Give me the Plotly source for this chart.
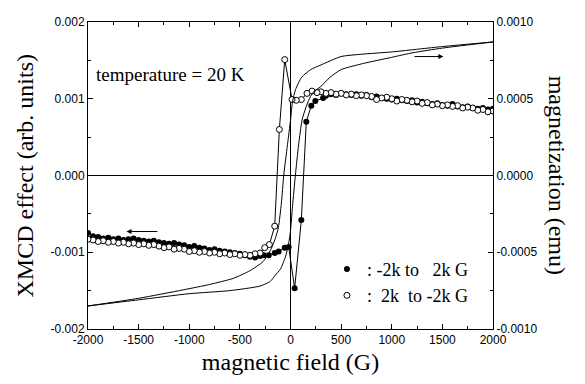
import plotly.graph_objects as go

# XMCD data, field swept 2k -> -2k G (open circles)
open_field = [2000, 1950, 1900, 1850, 1800, 1750, 1700, 1650, 1600, 1550, 1500, 1450, 1400, 1350,
              1300, 1250, 1200, 1150, 1100, 1050, 1000, 950, 900, 850, 800, 750, 700, 650, 600,
              550, 500, 450, 400, 350, 300, 262, 212, 163, 107, 57, 15, -57, -110, -156, -209,
              -255, -300, -350, -400, -450, -500, -550, -600, -650, -700, -750, -800, -850, -900,
              -950, -1000, -1050, -1100, -1150, -1200, -1250, -1300, -1350, -1400, -1450, -1500,
              -1550, -1600, -1650, -1700, -1750, -1800, -1850, -1900, -1950, -2000]
open_xmcd = [0.00084, 0.00083, 0.00086, 0.00085, 0.00088, 0.00089, 0.00088, 0.00091, 0.00090,
             0.00092, 0.00091, 0.00093, 0.00092, 0.00095, 0.00094, 0.00097, 0.00096, 0.00098,
             0.00099, 0.00097, 0.00100, 0.00102, 0.00101, 0.00099, 0.00103, 0.00104, 0.00105,
             0.00104, 0.00106, 0.00105, 0.00107, 0.00106, 0.00108, 0.00107, 0.00109, 0.00108,
             0.00110, 0.00107, 0.00099, 0.00098, 0.00099, 0.00151, 0.00060, -0.00066, -0.00090,
             -0.00094, -0.00101, -0.00102, -0.00104, -0.00103, -0.00104, -0.00102, -0.00103,
             -0.00101, -0.00102, -0.00100, -0.00101, -0.00099, -0.00100, -0.00098, -0.00099,
             -0.00096, -0.00095, -0.00096, -0.00093, -0.00094, -0.00092, -0.00090, -0.00091,
             -0.00089, -0.00090, -0.00088, -0.00089, -0.00087, -0.00088, -0.00086, -0.00087,
             -0.00085, -0.00086, -0.00084, -0.00083]

# XMCD data, field swept -2k -> 2k G (filled circles)
fill_field = [-2000, -1950, -1900, -1850, -1800, -1750, -1700, -1650, -1600, -1550, -1500, -1450,
              -1400, -1350, -1300, -1250, -1200, -1150, -1100, -1050, -1000, -950, -900, -850,
              -800, -750, -700, -650, -600, -550, -500, -450, -400, -350, -300, -265, -215, -156,
              -117, -57, -18, 41, 107, 156, 205, 245, 322, 350, 400, 450, 500, 550, 600, 650, 700,
              750, 800, 850, 900, 950, 1000, 1050, 1100, 1150, 1200, 1250, 1300, 1350, 1400, 1450,
              1500, 1550, 1600, 1650, 1700, 1750, 1800, 1850, 1900, 1950, 2000]
fill_xmcd = [-0.00075, -0.00079, -0.00080, -0.00082, -0.00081, -0.00083, -0.00082, -0.00084,
             -0.00083, -0.00082, -0.00084, -0.00085, -0.00086, -0.00085, -0.00087, -0.00088,
             -0.00089, -0.00088, -0.00090, -0.00091, -0.00093, -0.00092, -0.00094, -0.00095,
             -0.00097, -0.00096, -0.00098, -0.00099, -0.00100, -0.00101, -0.00102, -0.00104,
             -0.00106, -0.00107, -0.00105, -0.00104, -0.00104, -0.00101, -0.00099, -0.00094,
             -0.00093, -0.00147, -0.00058, 0.00070, 0.00091, 0.00097, 0.00101, 0.00104, 0.00106,
             0.00105, 0.00107, 0.00106, 0.00105, 0.00106, 0.00104, 0.00105, 0.00102, 0.00103,
             0.00101, 0.00100, 0.00099, 0.00100, 0.00098, 0.00097, 0.00098, 0.00095, 0.00096,
             0.00094, 0.00093, 0.00094, 0.00092, 0.00091, 0.00093, 0.00090, 0.00089, 0.00090,
             0.00088, 0.00087, 0.00088, 0.00086, 0.00087]

# Magnetization (emu), descending branch 2k -> -2k
mag_down_field = [2000, 1500, 1000, 700, 500, 300, 200, 110, 50, 20, 0, -30, -67, -90, -120, -150,
                  -200, -270, -400, -565, -800, -1060, -1500, -2000]
mag_down = [0.00087, 0.00084, 0.000805, 0.00079, 0.000775, 0.00072, 0.00069, 0.00064, 0.00056,
            0.00048, 0.00036, 0.00020, 0.0, -0.00018, -0.00034, -0.00041, -0.00049, -0.00056,
            -0.00062, -0.00067, -0.00071, -0.000745, -0.00080, -0.00085]

# Magnetization (emu), ascending branch -2k -> 2k
mag_up_field = [-2000, -1500, -1000, -600, -300, -200, -150, -100, -50, -20, 0, 20, 48, 80, 114,
                150, 180, 220, 300, 390, 500, 720, 1000, 1210, 1500, 2000]
mag_up = [-0.00085, -0.00081, -0.00077, -0.00075, -0.00072, -0.00069, -0.00065, -0.00061,
          -0.00053, -0.00045, -0.00036, -0.00020, 0.0, 0.00020, 0.00036, 0.00044, 0.00049, 0.00054,
          0.00058, 0.00064, 0.00069, 0.00073, 0.00077, 0.00080, 0.00083, 0.00087]

x_ticks = [-2000, -1500, -1000, -500, 0, 500, 1000, 1500, 2000]
x_labels = ["-2000", "-1500", "-1000", "-500", "0", "500", "1000", "1500", "2000"]
y_ticks = [-0.002, -0.001, 0.0, 0.001, 0.002]
y_labels = ["-0.002", "-0.001", "0.000", "0.001", "0.002"]
y2_ticks = [-0.001, -0.0005, 0.0, 0.0005, 0.001]
y2_labels = ["-0.0010", "-0.0005", "0.0000", "0.0005", "0.0010"]

SERIF = "Liberation Serif, Times New Roman, serif"
SANS = "Liberation Sans, Arial, sans-serif"

fig = go.Figure()
fig.add_trace(go.Scatter(x=mag_down_field, y=mag_down, yaxis="y2", mode="lines",
                         line=dict(color="black", width=1, shape="spline", smoothing=0.6),
                         showlegend=False))
fig.add_trace(go.Scatter(x=mag_up_field, y=mag_up, yaxis="y2", mode="lines",
                         line=dict(color="black", width=1, shape="spline", smoothing=0.6),
                         showlegend=False))
# connecting lines of the XMCD data
fig.add_trace(go.Scatter(x=fill_field, y=fill_xmcd, mode="lines",
                         line=dict(color="black", width=1), showlegend=False))
fig.add_trace(go.Scatter(x=open_field, y=open_xmcd, mode="lines",
                         line=dict(color="black", width=1), showlegend=False))
# markers (with legend entries)
fig.add_trace(go.Scatter(x=fill_field, y=fill_xmcd, mode="markers",
                         name=":\u00a0-2k to \u00a0 2k G",
                         marker=dict(symbol="circle", size=6, color="black")))
fig.add_trace(go.Scatter(x=open_field, y=open_xmcd, mode="markers",
                         name=":\u00a0 2k \u00a0to -2k G",
                         marker=dict(symbol="circle", size=6, color="white",
                                     line=dict(color="black", width=1))))

axis_common = dict(showline=True, linecolor="black", linewidth=1, ticks="inside",
                   tickcolor="black", ticklen=5, showgrid=False,
                   tickfont=dict(family=SANS, size=12, color="black"))

# page body has an 8 px margin: figure is shrunk so the plot lands where the reference has it
fig.update_layout(
    width=577, height=376,
    margin=dict(l=80, r=92, t=7, b=55),
    paper_bgcolor="white", plot_bgcolor="white",
    xaxis=dict(range=[-2000, 2000], tickvals=x_ticks, ticktext=x_labels, mirror="ticks",
               zeroline=True, zerolinecolor="black", zerolinewidth=1,
               minor=dict(ticks="inside", ticklen=3, dtick=250, tickcolor="black"),
               title=dict(text="magnetic field (G)", font=dict(family=SERIF, size=24, color="black"),
                          standoff=6),
               **axis_common),
    yaxis=dict(range=[-0.002, 0.002], tickvals=y_ticks, ticktext=y_labels,
               zeroline=True, zerolinecolor="black", zerolinewidth=1,
               minor=dict(ticks="inside", ticklen=3, dtick=0.0005, tickcolor="black"),
               **axis_common),
    yaxis2=dict(range=[-0.001, 0.001], tickvals=y2_ticks, ticktext=y2_labels, overlaying="y",
                side="right", zeroline=False,
                minor=dict(ticks="inside", ticklen=3, dtick=0.00025, tickcolor="black"),
                **axis_common),
    legend=dict(x=0.59, y=0.255, xanchor="left", yanchor="top", bgcolor="rgba(0,0,0,0)",
                font=dict(family=SERIF, size=18, color="black"), tracegroupgap=0,
                traceorder="normal"),
    annotations=[
        dict(text="temperature = 20 K", x=-1940, y=0.00131, xref="x", yref="y", xanchor="left",
             yanchor="middle", showarrow=False, font=dict(family=SERIF, size=19, color="black")),
        dict(text="XMCD effect (arb. units)", x=-0.158, y=0.5, xref="paper", yref="paper",
             xanchor="center", yanchor="middle",
             textangle=-90, showarrow=False, font=dict(family=SERIF, size=24, color="black")),
        dict(text="magnetization (emu)", x=1.16, y=0.5, xref="paper", yref="paper",
             xanchor="center", yanchor="middle",
             textangle=90, showarrow=False, font=dict(family=SERIF, size=24, color="black")),
        dict(x=-1620, y=-0.00073, ax=-1300, ay=-0.00073, xref="x", yref="y", axref="x", ayref="y",
             text="", showarrow=True, arrowhead=2, arrowsize=1, arrowwidth=1, arrowcolor="black"),
        dict(x=1510, y=0.00155, ax=1210, ay=0.00155, xref="x", yref="y", axref="x", ayref="y",
             text="", showarrow=True, arrowhead=2, arrowsize=1, arrowwidth=1, arrowcolor="black"),
    ],
)

fig.write_html("out.html")
